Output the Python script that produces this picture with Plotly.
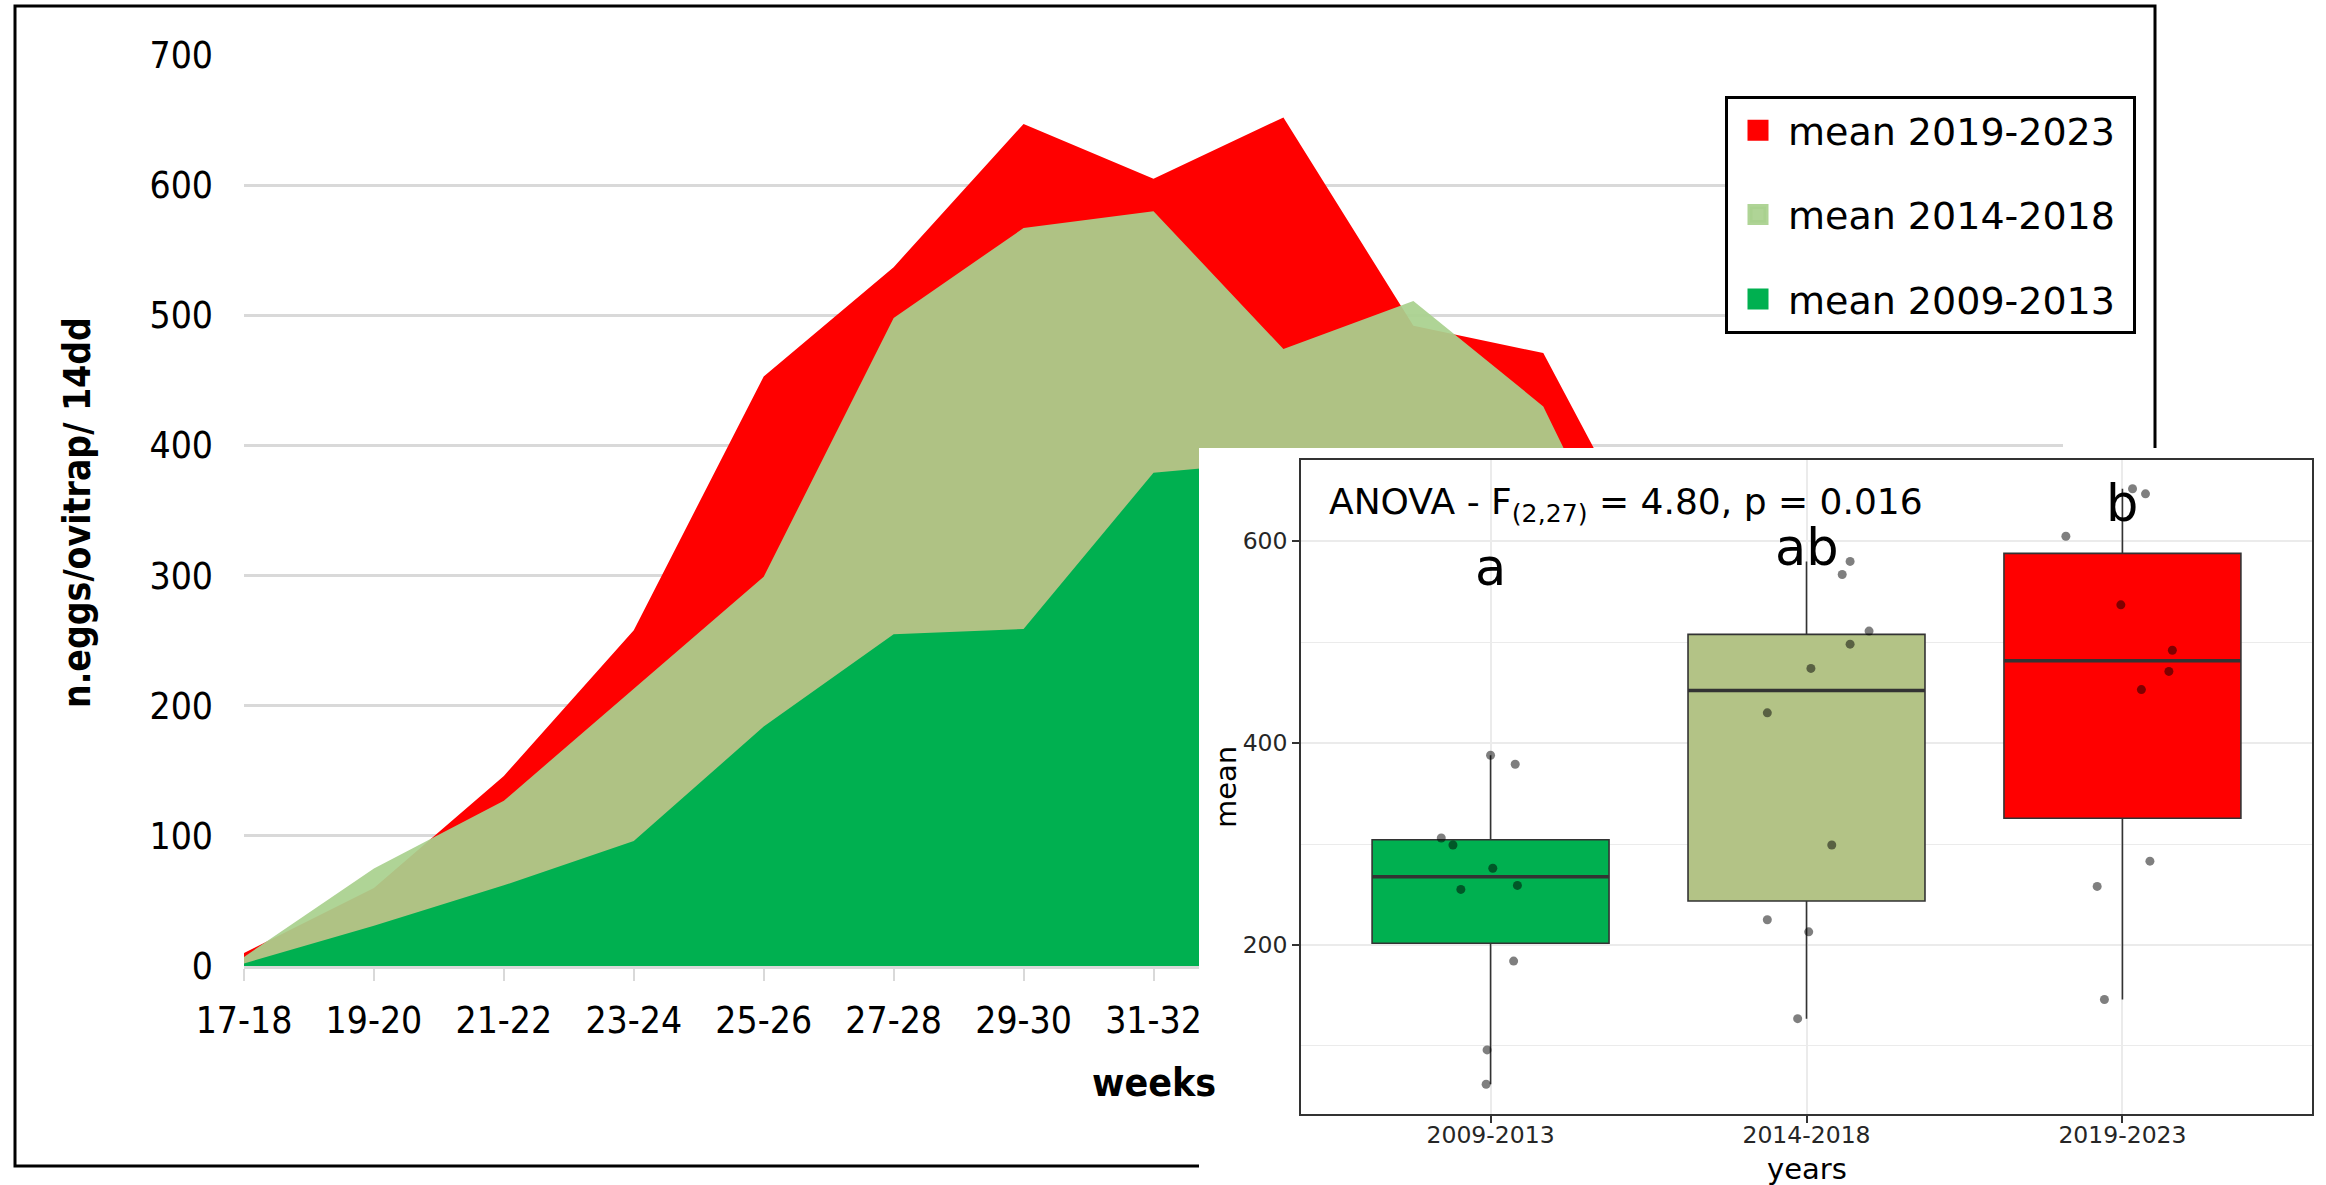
import numpy as np
import plotly.graph_objects as go

W, H = 2326, 1185

weeks = ["17-18", "19-20", "21-22", "23-24", "25-26", "27-28", "29-30", "31-32",
         "33-34", "35-36", "37-38", "39-40", "41-42", "43-44", "45-46"]
mean_2019_2023 = [10, 60, 146, 258, 453, 537, 647, 605, 652, 492, 471, 283, 150, 60, 15]
mean_2014_2018 = [7, 75, 127, 213, 299, 498, 567, 580, 474, 511, 430, 225, 110, 45, 10]
mean_2009_2013 = [2, 31, 62, 96, 184, 255, 259, 379, 388, 306, 299, 276, 140, 55, 12]

# inset boxplot: the ten fortnights 21-22 .. 39-40
groups = ["2009-2013", "2014-2018", "2019-2023"]
jitter_2009_2013 = [-0.014, -0.011, 0.073, -0.094, 0.085, 0.078, 0.0, -0.156, -0.119, 0.007]
jitter_2014_2018 = [-0.028, 0.007, 0.080, 0.138, 0.113, 0.138, 0.014, 0.198, -0.124, -0.124]
jitter_2019_2023 = [-0.057, -0.080, 0.060, -0.005, 0.073, -0.179, 0.032, 0.158, 0.147, 0.087]
letters = ["a", "ab", "b"]
letter_y = [574, 594, 637]
anova_text = "ANOVA - F<sub>(2,27)</sub> = 4.80, p = 0.016"
legend_names = ["mean 2019-2023", "mean 2014-2018", "mean 2009-2013"]

RED = "#FF0000"
LGREEN = "rgba(169,209,142,0.93)"
GREEN = "#00B050"
OLIVE = "#B3C386"

COND = "DejaVu Sans Condensed, DejaVu Sans, sans-serif"
SANS = "DejaVu Sans, sans-serif"


def px(x):
    return x / W


def py(y):
    return 1 - y / H


fig = go.Figure()

# ---- main area chart ----
area_series = [mean_2019_2023, mean_2014_2018, mean_2009_2013]
area_cols = [RED, LGREEN, GREEN]
for vals, col in zip(area_series, area_cols):
    fig.add_trace(go.Scatter(x=weeks, y=vals, mode="none", fill="tozeroy",
                             fillcolor=col, showlegend=False, hoverinfo="skip",
                             xaxis="x", yaxis="y"))
for i, (name, col) in enumerate(zip(legend_names, area_cols)):
    fig.add_trace(go.Scatter(x=[None], y=[None], mode="markers",
                             name=name + "\u00a0",
                             legendgroup=str(i),
                             marker=dict(symbol="square", size=16, color=col,
                                         line=dict(color=col, width=5)),
                             xaxis="x", yaxis="y"))

# ---- white inset background subplot ----
fig.add_trace(go.Scatter(x=[None], y=[None], xaxis="x2", yaxis="y2",
                         showlegend=False, hoverinfo="skip"))

# ---- inset boxplot ----
box_series = [mean_2009_2013[2:12], mean_2014_2018[2:12], mean_2019_2023[2:12]]
box_fill = [GREEN, OLIVE, RED]
jitters = [jitter_2009_2013, jitter_2014_2018, jitter_2019_2023]
bw = 0.75
for i, vals in enumerate(box_series):
    v = np.array(vals, dtype=float)
    q1, med, q3 = np.percentile(v, [25, 50, 75])
    iqr = q3 - q1
    lo = v[v >= q1 - 1.5 * iqr].min()
    hi = v[v <= q3 + 1.5 * iqr].max()
    fig.add_trace(go.Box(x=[i], q1=[q1], median=[med], q3=[q3],
                         lowerfence=[lo], upperfence=[hi], width=bw,
                         whiskerwidth=0, fillcolor=box_fill[i],
                         line=dict(color="#333333", width=1.6),
                         boxpoints=False, showlegend=False, hoverinfo="skip",
                         xaxis="x3", yaxis="y3"))
    fig.add_trace(go.Scatter(x=[i - bw / 2, i + bw / 2], y=[med, med], mode="lines",
                             line=dict(color="#333333", width=3.5),
                             showlegend=False, hoverinfo="skip",
                             xaxis="x3", yaxis="y3"))
for i, vals in enumerate(box_series):
    fig.add_trace(go.Scatter(x=[i + j for j in jitters[i]], y=vals, mode="markers",
                             marker=dict(size=9, color="rgba(0,0,0,0.5)",
                                         line=dict(width=0)),
                             showlegend=False, hoverinfo="skip",
                             xaxis="x3", yaxis="y3"))

annotations = []
for i, (lt, ly) in enumerate(zip(letters, letter_y)):
    annotations.append(dict(x=i, y=ly, xref="x3", yref="y3", text=lt,
                            showarrow=False, font=dict(family=SANS, size=51, color="black"),
                            xanchor="center", yanchor="middle"))
annotations.append(dict(x=px(1327), y=py(504), xref="paper", yref="paper",
                        text=anova_text, showarrow=False,
                        font=dict(family=SANS, size=36, color="black"),
                        xanchor="left", yanchor="middle"))
annotations.append(dict(x=px(1226), y=py(787), xref="paper", yref="paper", text="mean",
                        textangle=-90, showarrow=False,
                        font=dict(family=SANS, size=29, color="black"),
                        xanchor="center", yanchor="middle"))
annotations.append(dict(x=px(1807), y=py(1169), xref="paper", yref="paper", text="years",
                        showarrow=False, font=dict(family=SANS, size=29, color="black"),
                        xanchor="center", yanchor="middle"))
annotations.append(dict(x=px(77), y=py(513), xref="paper", yref="paper",
                        text="<b>n.eggs/ovitrap/ 14dd</b>", textangle=-90, showarrow=False,
                        font=dict(family=COND, size=37, color="black"),
                        xanchor="center", yanchor="middle"))
annotations.append(dict(x=px(1154), y=py(1082), xref="paper", yref="paper",
                        text="<b>weeks</b>", showarrow=False,
                        font=dict(family=COND, size=39, color="black"),
                        xanchor="center", yanchor="middle"))

shapes = [dict(type="rect", xref="paper", yref="paper", x0=px(15), x1=px(2155),
               y0=py(1166), y1=py(6), line=dict(color="black", width=3),
               layer="below")]

fig.update_layout(
    width=W, height=H, margin=dict(l=0, r=0, t=0, b=0, autoexpand=False),
    paper_bgcolor="white", plot_bgcolor="white",
    showlegend=True,
    legend=dict(x=px(1725), y=py(96), xanchor="left", yanchor="top",
                bgcolor="white", bordercolor="black", borderwidth=3,
                font=dict(family=SANS, size=38, color="black"),
                tracegroupgap=32, itemwidth=50),
    xaxis=dict(domain=[px(244), px(2063)], type="category", range=[0, 14],
               anchor="y", showgrid=False, showline=True, linecolor="#D9D9D9",
               linewidth=3, ticks="outside", ticklen=12, tickcolor="#D9D9D9",
               tickwidth=2, tickfont=dict(family=COND, size=37, color="black"),
               ticklabelstandoff=8, zeroline=False, automargin=False),
    yaxis=dict(domain=[py(966), py(55)], range=[0, 700], dtick=100, anchor="x",
               showgrid=True, gridcolor="#D9D9D9", gridwidth=3, zeroline=False,
               showline=False, ticks="",
               tickfont=dict(family=COND, size=37, color="black"),
               ticklabelstandoff=30, automargin=False),
    xaxis2=dict(domain=[px(1199), 1], anchor="y2", visible=False, range=[0, 1],
                automargin=False),
    yaxis2=dict(domain=[0, py(448)], anchor="x2", visible=False, range=[0, 1],
                automargin=False),
    xaxis3=dict(domain=[px(1301), px(2312)], anchor="y3", range=[-0.6, 2.6],
                tickvals=[0, 1, 2], ticktext=groups, showgrid=True,
                gridcolor="#EBEBEB", gridwidth=1.5, zeroline=False,
                showline=True, mirror=True, linecolor="#333333", linewidth=1.6,
                ticks="outside", ticklen=7, tickcolor="#333333", tickwidth=1.5,
                tickfont=dict(family=SANS, size=23.5, color="#262626"),
                ticklabelstandoff=-8, automargin=False),
    yaxis3=dict(domain=[py(1114), py(460)], anchor="x3", range=[32.5, 680.5],
                tickvals=[200, 400, 600], showgrid=True, gridcolor="#EBEBEB",
                gridwidth=1.5, zeroline=False,
                minor=dict(tickvals=[100, 300, 500], showgrid=True,
                           gridcolor="#EBEBEB", gridwidth=0.8, ticks=""),
                showline=True, mirror=True, linecolor="#333333", linewidth=1.6,
                ticks="outside", ticklen=7, tickcolor="#333333", tickwidth=1.5,
                tickfont=dict(family=SANS, size=23.5, color="#262626"),
                automargin=False),
    annotations=annotations,
    shapes=shapes,
)

fig.write_html("out.html", config={"displayModeBar": False},
               post_script="document.body.style.margin='0';"
                           "document.body.style.overflow='hidden';")
